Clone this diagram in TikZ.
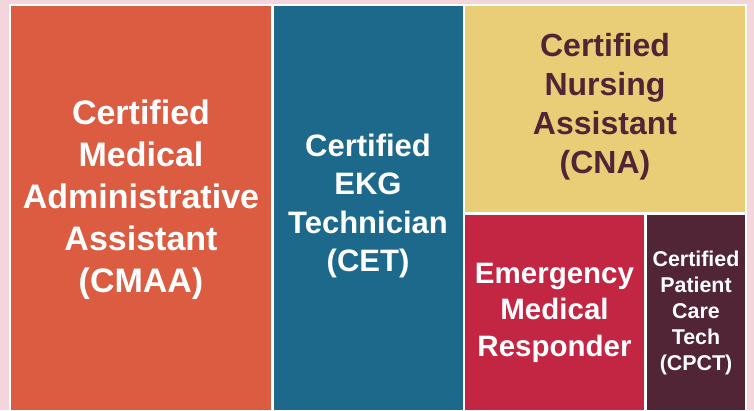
\documentclass[tikz,border=0pt]{standalone}
\usepackage{fontspec}
\setmainfont{Liberation Sans}
\usetikzlibrary{calc}

\definecolor{bgpink}{HTML}{F4D5DB}
\definecolor{cmaaorange}{HTML}{DC5C42}
\definecolor{cetblue}{HTML}{1C698C}
\definecolor{cnayellow}{HTML}{E9CE77}
\definecolor{emrred}{HTML}{C32643}
\definecolor{cpctmaroon}{HTML}{512436}

\tikzset{
  tile/.style={draw=none,inner sep=0pt},
  tilelabel/.style={align=center,inner sep=0pt,font=\bfseries},
}

\begin{document}
\begin{tikzpicture}[x=1pt,y=1pt]
	\fill [bgpink] (0,0) rectangle (754,410);
	\fill [white] (9,0) rectangle (747,406);
	\useasboundingbox (0,0) rectangle (754,410);
	% tiles
	\fill [cmaaorange] (11,0) coordinate (cmaa sw) rectangle (271,404) coordinate (cmaa ne);
	\fill [cetblue] (274,0) coordinate (cet sw) rectangle (462.5,404) coordinate (cet ne);
	\fill [cnayellow] (465,198.5) coordinate (cna sw) rectangle (745,404) coordinate (cna ne);
	\fill [emrred] (465,0) coordinate (emr sw) rectangle (644,195) coordinate (emr ne);
	\fill [cpctmaroon] (647,0) coordinate (cpct sw) rectangle (745,195) coordinate (cpct ne);
	% labels
	\node [tilelabel,white,font=\bfseries\fontsize{34}{42}\selectfont] (cmaa) at (141,210.5)
		{Certified\\Medical\\Administrative\\Assistant\\(CMAA)};
	\node [tilelabel,white,font=\bfseries\fontsize{31}{38.5}\selectfont] (cet) at (368,204)
		{Certified\\EKG\\Technician\\(CET)};
	\node [tilelabel,cpctmaroon,font=\bfseries\fontsize{32}{39}\selectfont] (cna) at (605,303.5)
		{Certified\\Nursing\\Assistant\\(CNA)};
	\node [tilelabel,white,font=\bfseries\fontsize{29.5}{36.5}\selectfont] (emr) at (554.5,97.5)
		{Emergency\\Medical\\Responder};
	\node [tilelabel,white,font=\bfseries\fontsize{21.4}{25.8}\selectfont] (cpct) at (696,97)
		{Certified\\Patient\\Care\\Tech\\(CPCT)};
\end{tikzpicture}
\end{document}
